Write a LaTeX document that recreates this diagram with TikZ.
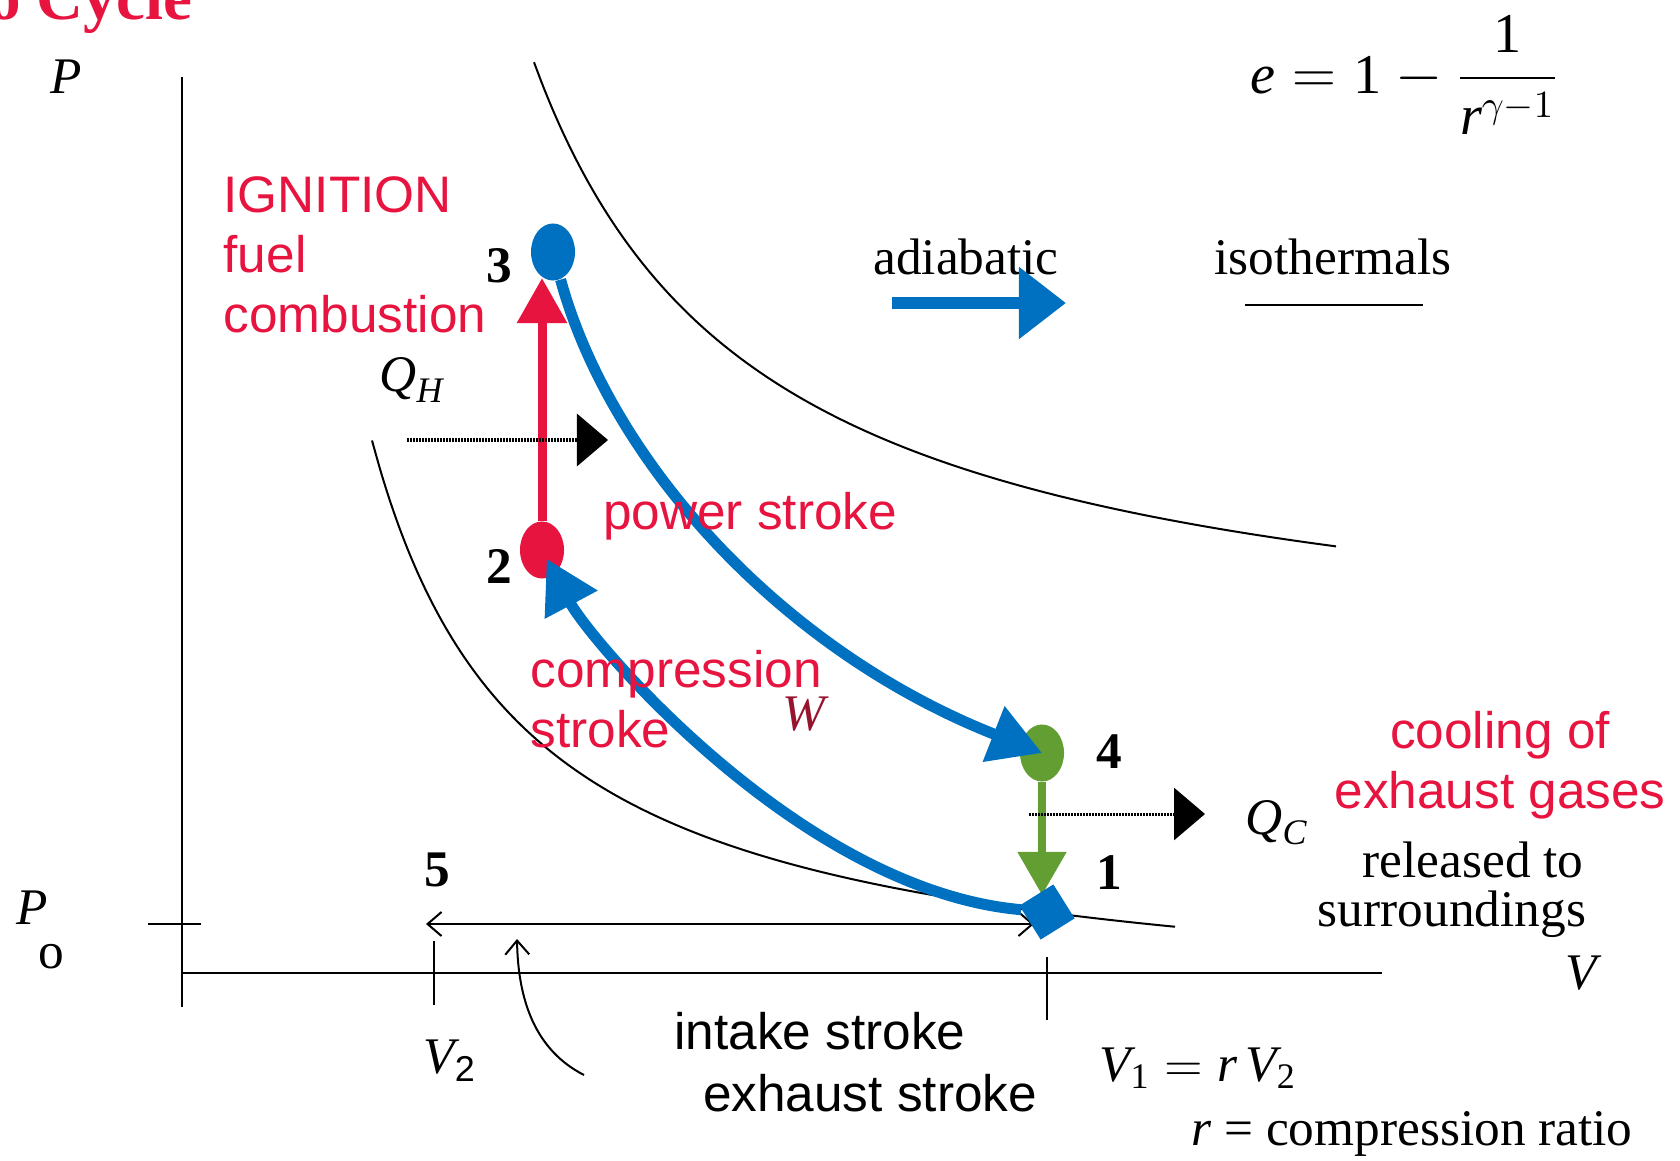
\documentclass[tikz,border=0pt]{standalone}
\usepackage{amsmath}
\usepackage{fontspec}
\setmainfont{Liberation Serif}
\setsansfont{Liberation Sans}
\usetikzlibrary{arrows.meta,shapes.geometric}
\definecolor{strokeblue}{RGB}{0,112,192}
\definecolor{strokered}{RGB}{232,20,64}
\definecolor{strokegreen}{RGB}{98,158,50}
\definecolor{wred}{RGB}{150,20,45}

\begin{document}
\begin{tikzpicture}[x=.01cm,y=.01cm,
  axis/.style={line width=.02cm},
  stroke/.style={line width=.11cm,strokeblue,-{Triangle[length=.52cm,width=.57cm]}},
  heat/.style={line width=.03cm,dash pattern=on .015cm off .015cm,-{Triangle[length=.31cm,width=.52cm]}},
  barb/.style={axis,-{Straight Barb[length=.14cm,width=.24cm]}},
  pt/.style={ellipse,minimum width=.44cm,minimum height=.57cm,inner sep=0pt},
  lbl/.style={font=\fontsize{14.6}{17}\selectfont,inner sep=0pt},
  num/.style={font=\fontsize{14.6}{17}\selectfont\bfseries,inner sep=0pt},
  redtxt/.style={font=\fontsize{14.6}{17}\sffamily,strokered,align=left,inner sep=0pt}]
  \useasboundingbox (0,0) rectangle (1680,1160);

  \node[font=\fontsize{18.5}{22}\selectfont\bfseries,strokered,anchor=base east,inner sep=0pt] (title) at (193,1140) {Otto Cycle};

  \draw[axis] (182,1083) -- (182,153);
  \draw[axis] (182,187) -- (1382,187);
  \draw[axis] (148,236) -- (201,236);
  \draw[axis] (434,219) -- (434,155);
  \draw[axis] (1047,203) -- (1047,140);
  \node[lbl] (plbl) at (66,1083) {\textit{P}};
  \node[lbl] (p0) at (32,252) {\textit{P}};
  \node[lbl] (p0sub) at (51,203) {o};
  \node[lbl] (vlbl) at (1584,187) {\textit{V}};
  \node[lbl] (v2lbl) at (450,99) {$\textit{V}_{\textsf{2}}$};

  \draw[axis] plot[domain=534:1336,samples=90,smooth] (\x,{476.9+1406.2/((\x-307.5)/100)});
  \draw[axis] plot[domain=372:1175,samples=90,smooth] (\x,{139.7+895.85/((\x-217.5)/100)});

  \node[pt,fill=strokered] (n2) at (542,610) {};
  \node[pt,fill=strokegreen] (n4) at (1042,407) {};
  \coordinate (c3) at (553,908);
  \coordinate (c1) at (1047,248);
  \draw[line width=.09cm,strokered,-{Triangle[length=.45cm,width=.48cm]},shorten >=.26cm] (n2) -- (n2 |- c3);
  \draw[line width=.08cm,strokegreen,-{Triangle[length=.43cm,width=.47cm]},shorten >=.17cm] (n4) -- (n4 |- c1);

  \coordinate (v5) at (426,236);
  \coordinate (v1) at (1034,236);
  \draw[axis,{Straight Barb[length=.14cm,width=.24cm]}-{Straight Barb[length=.14cm,width=.24cm]}] (v5) -- (v1);

  \node[pt,fill=strokeblue] (n3) at (c3) {};
  \node[rectangle,fill=strokeblue,minimum size=.4cm,inner sep=0pt,rotate=32] (n1) at (c1) {};
  \draw[stroke] (n3) .. controls (610,700) and (780,510) .. (n4.center);
  \draw[stroke,shorten >=.1cm] (n1) .. controls (800,270) and (590,520) .. (n2.center);

  \node[num] (l1) at (1109,287) {1};
  \node[num] (l2) at (499,594) {2};
  \node[num] (l3) at (499,894) {3};
  \node[num] (l4) at (1109,408) {4};
  \node[num] (l5) at (437,290) {5};

  \coordinate (qh0) at (407,720);
  \coordinate (qh1) at (608,720);
  \draw[heat] (qh0) -- (qh1);
  \node[lbl] (qh) at (412,780) {$\textit{Q}_{\textit{H}}$};
  \coordinate (qc0) at (1029,346);
  \coordinate (qc1) at (1205,346);
  \draw[heat] (qc0) -- (qc1);
  \node[lbl] (qc) at (1277,337) {$\textit{Q}_{\textit{C}}$};

  \node[lbl] (adia) at (966,903) {adiabatic};
  \coordinate (adia0) at (892,857);
  \coordinate (adia1) at (1066,857);
  \draw[line width=.12cm,strokeblue,-{Triangle[length=.47cm,width=.69cm]}] (adia0) -- (adia1);
  \node[lbl] (iso) at (1333,903) {isothermals};
  \draw[axis] (1245,855) -- (1423,855);

  \node[redtxt,anchor=west] (ign) at (223,905) {IGNITION\\fuel\\combustion};
  \node[redtxt] (power) at (750,644) {power stroke};
  \node[redtxt,anchor=west] (comp) at (530,461) {compression\\stroke};
  \node[lbl,wred] (wlbl) at (806,446) {\textit{W}};
  \node[redtxt,align=center] (cool) at (1500,395) {cooling of\\exhaust gases};
  \node[lbl] (rel) at (1473,300) {released to};
  \node[lbl] (sur) at (1452,246) {surroundings};

  \coordinate (ex0) at (584,85);
  \coordinate (ex1) at (517,221);
  \draw[barb] (ex0) .. controls (535,110) and (518,160) .. (ex1);
  \node[lbl,font=\fontsize{14.6}{17}\sffamily] (intake) at (820,129) {intake stroke};
  \node[lbl,font=\fontsize{14.6}{17}\sffamily] (exhaust) at (870,67) {exhaust stroke};
  \node[lbl] (v1v2) at (1198,92) {$\textit{V}_{\textrm{1}} = \textit{r}\,\textit{V}_{\textrm{2}}$};
  \node[lbl] (ratio) at (1412,26) {\textit{r} = compression ratio};
  \node[lbl,font=\fontsize{16}{19}\selectfont] (eff) at (1405,1085) {$\textit{e} = \textrm{1} - \dfrac{\textrm{1}}{\textit{r}^{\gamma-1}}$};
\end{tikzpicture}
\end{document}
